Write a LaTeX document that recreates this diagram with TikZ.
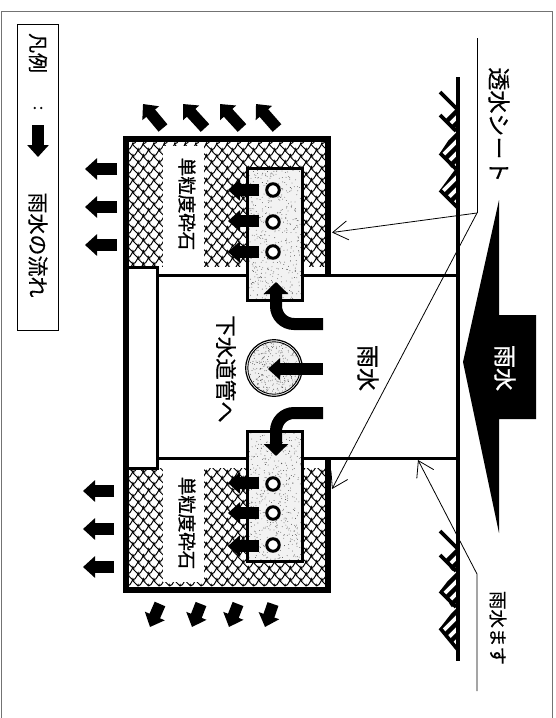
\documentclass[tikz,border=0pt]{standalone}
\usepackage{fontspec}
\usetikzlibrary{arrows.meta}
\newfontfamily\cjk{Noto Sans CJK JP}
\newcommand\jfont[3]{\cjk\fontsize{#1}{#1}\selectfont\addfontfeature{LetterSpace=#2,FakeBold=#3}}
\tikzset{
  jlabel/.style={rotate=-90,inner sep=0pt,black},
  flow/.style={line width=11.5pt,-{Triangle[length=12pt,width=21pt]}},
  bentflow/.style={line width=12pt,rounded corners=18pt,-{Triangle[length=12pt,width=24pt]}},
  wall/.style={line width=6pt,line cap=butt,line join=miter},
  thinwall/.style={line width=3pt},
  leader/.style={line width=.8pt,black},
  barb/.style={-{Straight Barb[length=15pt,width=19pt,line width=.8pt]}},
  dirt/.style={line width=3.6pt,line cap=butt,line join=miter},
  dirtbar/.style={line width=4.4pt,line cap=butt},
  hole/.style={draw=black,line width=3pt,fill=white,circle,minimum size=12.5pt,inner sep=0pt},
  scaleline/.style={line width=1pt,black}
}
\newcommand\scalesat[4]{%
  \foreach \ii in {0,...,#3}{\foreach \jj in {0,...,#4}{%
    \pgfmathsetmacro\xa{#1+\ii*10.5+mod(\jj,2)*5.25}
    \pgfmathsetmacro\ya{#2+\jj*6}
    \draw[scaleline] (\xa,\ya) .. controls +(3.8,.8) and +(1.8,-5.2) .. +(5.25,-6);
    \draw[scaleline] (\xa,\ya) .. controls +(.6,1.8) and +(2.5,1.8) .. +(4.1,4.7);
  }}}
\newcommand\stipple[5]{%
  \foreach \k in {1,...,#5}{%
    \pgfmathsetmacro\xa{#1+rnd*(#3)}
    \pgfmathsetmacro\ya{#2+rnd*(#4)}
    \fill[black!75] (\xa,\ya) circle[radius=.42pt];
  }}
\begin{document}
\begin{tikzpicture}[x=1pt,y=-1pt]
\pgfmathsetseed{7}
\useasboundingbox (0,0) rectangle (555,718);
\fill[white] (0,0) rectangle (555,718);
% sheet frame
\draw[black!55,line width=1pt] (1,718) -- (1,11) -- (552,11) -- (552,718);
% legend
\node[draw,line width=1pt,minimum width=41pt,minimum height=306pt,inner sep=0pt] (legend) at (37.5,177) {};
\node[jlabel] (lgA) at (38,53) {\jfont{20}{0.03}{0.4}凡例};
\node[jlabel] (lgB) at (38,108) {\jfont{16}{0}{0.6}:};
\node[jlabel] (lgC) at (38,245) {\jfont{21}{0.05}{0.4}雨水の流れ};
\coordinate (lgS) at (38,125); \coordinate (lgE) at (38,157);
\draw[flow] (lgS) -- (lgE);
% crushed stone
\begin{scope}
  \clip (129,142) rectangle (325,275) (129,458) rectangle (325,586);
  \scalesat{122}{144}{20}{23}
  \scalesat{122}{460}{20}{22}
\end{scope}
\fill[white] (163,146) rectangle (204,267);
\fill[white] (163,468) rectangle (204,582);
\node[jlabel] (stoneA) at (187,204) {\jfont{18.5}{0}{1}単粒度砕石};
\node[jlabel] (stoneB) at (187,523) {\jfont{18.5}{0}{1}単粒度砕石};
% basin and cover
\fill[white] (129,267) rectangle (325,468);
\fill[white] (325,278) rectangle (456,456);
\draw[wall] (126,267) -- (126,589.5) -- (328,589.5) -- (328,457);
\draw[wall] (126,270) -- (126,139) -- (328,139) -- (328,277);
\draw[thinwall] (126,267) -- (157,267) -- (157,468) -- (126,468);
\draw[thinwall] (157,275) -- (458,275);
\draw[thinwall] (157,458) -- (458,458);
% perforated boxes
\fill[black!5] (247,168) rectangle (302,300);
\fill[black!5] (247,431) rectangle (302,561);
\stipple{248}{169}{53}{130}{480}
\stipple{248}{432}{53}{128}{480}
\draw[thinwall] (247,168) rectangle (302,300);
\draw[thinwall] (247,431) rectangle (302,561);
\foreach \n/\yy in {a/190,b/222,c/252,d/484,e/513,f/545}{
  \node[hole] (h\n) at (273,\yy) {};
}
% sewer pipe
\fill[black!6] (274,368) circle[radius=26pt];
\begin{scope}
  \clip (274,368) circle[radius=26pt];
  \stipple{247}{341}{54}{54}{380}
\end{scope}
\node[circle,draw,line width=.9pt,minimum size=52.5pt,inner sep=0pt] (pipeI) at (274,368) {};
\node[circle,draw,line width=1.2pt,minimum size=56.5pt,inner sep=0pt] (pipeO) at (274,368) {};
% road surface
\draw[line width=4.4pt] (458,77) -- (458,661);
% ground hatching
\begin{scope}
  \clip (458,100) -- (440,115) -- (454,132) -- (440,153) -- (454,171) -- (440,190) -- (458,208) -- cycle;
  \foreach \yy in {118,130,142,154,166,178,190,202}{\draw[dirtbar] (436,\yy+14) -- (462,\yy-12);}
\end{scope}
\draw[dirt] (440,92) -- (458,110);
\draw[dirt] (440,115) -- (456,131);
\draw[dirt] (440,153) -- (456,169);
\draw[dirt] (440,190) -- (458,208);
\begin{scope}
  \clip (458,540) -- (440,555) -- (454,573) -- (440,591) -- (454,610) -- (440,628) -- (458,650) -- cycle;
  \foreach \yy in {558,570,582,594,606,618,630,642}{\draw[dirtbar] (436,\yy+14) -- (462,\yy-12);}
\end{scope}
\draw[dirt] (440,531) -- (458,549);
\draw[dirt] (440,555) -- (456,571);
\draw[dirt] (440,591) -- (456,607);
\draw[dirt] (440,628) -- (458,650);
% flows
\foreach \yy in {190,221,252,483,513,546}{\draw[flow] (259,\yy) -- (228,\yy);}
\foreach \yy in {169,207,245}{\draw[flow] (117,\yy) -- (85,\yy);}
\foreach \yy in {491,529,567}{\draw[flow] (114,\yy) -- (83,\yy);}
\foreach \xa/\xb in {163/143,205/183,242/220,277/256}{\draw[flow] (\xa,128) -- (\xb,104);}
\foreach \xa/\xb in {160/150,201/192,238/229,273/265}{\draw[flow] (\xa,604) -- (\xb,627);}
\draw[flow] (323,369) -- (268,369);
\draw[bentflow] (323,324) -- (276,324) -- (276,282);
\draw[bentflow] (323,413) -- (276,413) -- (276,456);
% big arrow
\fill[black] (499,200) -- (463,362) -- (499,533) -- (499,419) -- (536,419) -- (536,315) -- (499,315) -- cycle;
\node[jlabel,white] (rainA) at (505,368) {\jfont{23}{0.03}{1}雨水};
\node[jlabel] (rainB) at (368,368) {\jfont{23}{0.03}{0.8}雨水};
\node[jlabel] (pipeT) at (226,369) {\jfont{21.5}{0.06}{0.4}下水道管へ};
\node[jlabel] (sheetT) at (499,125) {\jfont{23}{0.13}{0.4}透水シート};
\node[jlabel] (inletT) at (498,628) {\jfont{18.5}{0.05}{0.4}雨水ます};
% leaders
\coordinate (sheetTop) at (477,38);
\coordinate (sheetBend) at (477,213);
\coordinate (sheetA) at (332,232.5);
\coordinate (sheetB) at (332,489);
\coordinate (inletEnd) at (477,691);
\coordinate (inletBend) at (477,574);
\coordinate (inletTip) at (418,460);
\draw[leader] (sheetTop) -- (sheetBend);
\draw[leader,barb] (sheetBend) -- (sheetA);
\draw[leader,barb] (sheetBend) -- (sheetB);
\draw[leader,barb] (inletEnd) -- (inletBend) -- (inletTip);
\end{tikzpicture}
\end{document}
